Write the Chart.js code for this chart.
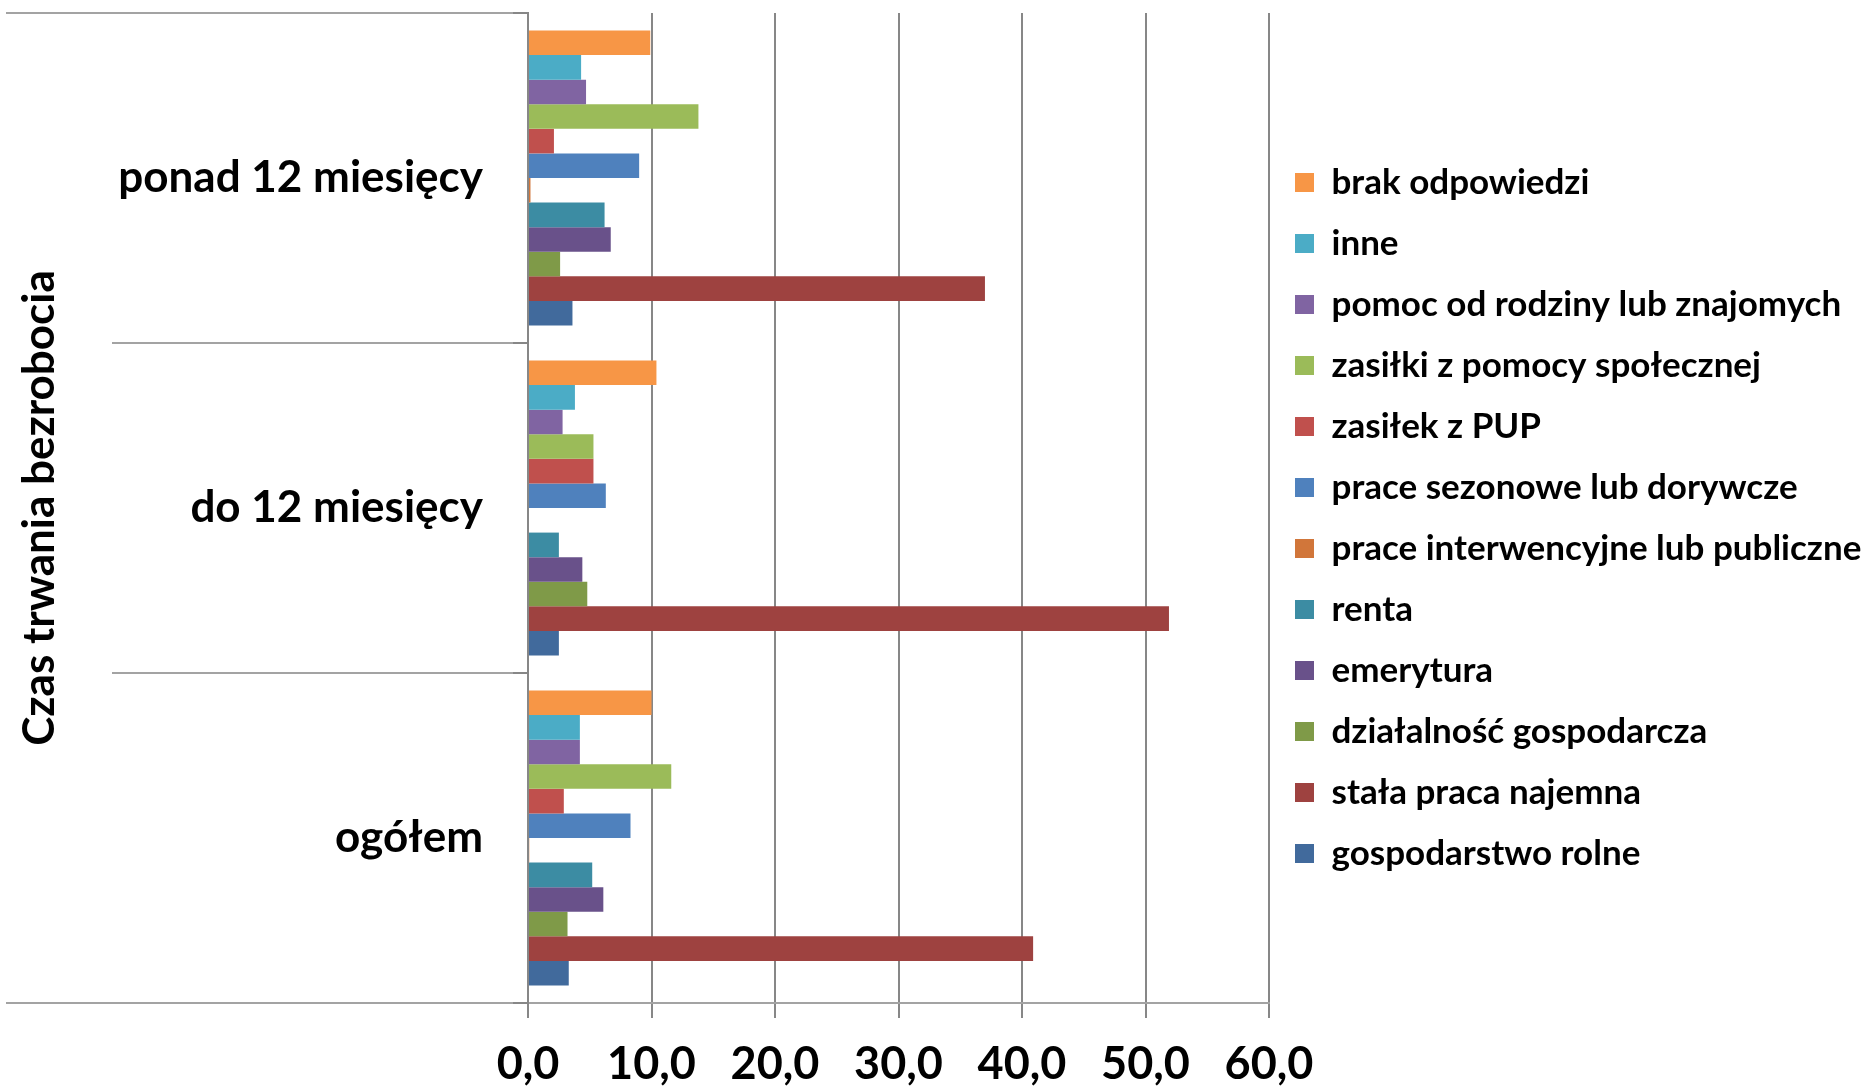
<!DOCTYPE html>
<html>
<head>
<meta charset="utf-8">
<script src="https://cdn.jsdelivr.net/npm/chart.js@4.4.1/dist/chart.umd.min.js"></script>
<style>
html,body{margin:0;padding:0;background:#ffffff;}
canvas{display:block;}
</style>
</head>
<body>
<canvas id="c" width="1862" height="1087"></canvas>
<script>
// Categories (top to bottom)
const categories = ['ponad 12 miesięcy', 'do 12 miesięcy', 'ogółem'];

// Series (legend order, top to bottom inside each group)
const brakOdpowiedzi      = [9.9, 10.4, 10.0];
const inne                = [4.3, 3.8, 4.2];
const pomocRodziny        = [4.7, 2.8, 4.2];
const zasilkiPomocy       = [13.8, 5.3, 11.6];
const zasilekPUP          = [2.1, 5.3, 2.9];
const praceSezonowe       = [9.0, 6.3, 8.3];
const praceInterwencyjne  = [0.2, 0.0, 0.1];
const renta               = [6.2, 2.5, 5.2];
const emerytura           = [6.7, 4.4, 6.1];
const dzialalnosc         = [2.6, 4.8, 3.2];
const stalaPraca          = [37.0, 51.9, 40.9];
const gospodarstwoRolne   = [3.6, 2.5, 3.3];

const seriesNames = [
  'brak odpowiedzi', 'inne', 'pomoc od rodziny lub znajomych', 'zasiłki z pomocy społecznej',
  'zasiłek z PUP', 'prace sezonowe lub dorywcze', 'prace interwencyjne lub publiczne',
  'renta', 'emerytura', 'działalność gospodarcza', 'stała praca najemna', 'gospodarstwo rolne'
];
const seriesValues = [
  brakOdpowiedzi, inne, pomocRodziny, zasilkiPomocy, zasilekPUP, praceSezonowe,
  praceInterwencyjne, renta, emerytura, dzialalnosc, stalaPraca, gospodarstwoRolne
];
const seriesColors = [
  '#F79646', '#4BACC6', '#8064A2', '#9BBB59', '#C0504D', '#4F81BD',
  '#D1763A', '#3C8CA3', '#69518A', '#7F9A48', '#9E4240', '#416A9C'
];

const xTickLabels = ['0,0', '10,0', '20,0', '30,0', '40,0', '50,0', '60,0'];

const FONT = 'Lato, "Open Sans", "DejaVu Sans", sans-serif';

const separatorPlugin = {
  id: 'separators',
  afterDraw(chart) {
    const ys = chart.scales.y;
    const area = chart.chartArea;
    const ctx = chart.ctx;
    const n = categories.length;
    ctx.save();
    ctx.strokeStyle = '#a3a3a3';
    ctx.lineWidth = 2;
    for (let i = 0; i <= n; i++) {
      let py;
      if (i === 0) py = area.top;
      else if (i === n) py = area.bottom;
      else py = (ys.getPixelForTick(i - 1) + ys.getPixelForTick(i)) / 2;
      const x0 = (i === 0 || i === n) ? 6 : 112;
      ctx.beginPath();
      ctx.moveTo(x0, py);
      ctx.lineTo(area.left - 15, py);
      ctx.stroke();
    }
    ctx.restore();
  }
};

function draw() {
  const datasets = seriesNames.map((name, i) => ({
    label: name,
    data: seriesValues[i],
    backgroundColor: seriesColors[i],
    borderWidth: 0
  }));

  new Chart(document.getElementById('c'), {
    type: 'bar',
    data: { labels: categories, datasets },
    plugins: [separatorPlugin],
    options: {
      indexAxis: 'y',
      responsive: false,
      animation: false,
      devicePixelRatio: 1,
      layout: { padding: { top: 13, left: 0, right: 0, bottom: 0 } },
      datasets: { bar: { categoryPercentage: 0.894, barPercentage: 1.0 } },
      plugins: {
        legend: {
          position: 'right',
          align: 'start',
          maxWidth: 593,
          title: { display: true, text: ' ', font: { size: 25, lineHeight: 1 }, padding: { top: 101, bottom: 0 } },
          labels: {
            boxWidth: 19,
            boxHeight: 19,
            padding: 26,
            color: '#000000',
            font: { family: FONT, weight: 'bold', size: 35 }
          }
        },
        tooltip: { enabled: false }
      },
      scales: {
        x: {
          min: 0,
          max: 60,
          ticks: {
            stepSize: 10,
            callback: (v, i) => xTickLabels[i],
            padding: 19,
            color: '#000000',
            font: { family: FONT, weight: 'bold', size: 45, lineHeight: 1.2 }
          },
          grid: { color: '#878787', lineWidth: 2, tickLength: 15 },
          border: { color: '#a3a3a3', width: 2 },
          afterFit: (s) => { s.height = 84; s.paddingLeft = 0; s.paddingRight = 0; }
        },
        y: {
          ticks: {
            padding: 30,
            color: '#000000',
            font: { family: FONT, weight: 'bold', size: 44 }
          },
          grid: { drawOnChartArea: false, tickLength: 15, color: '#878787', lineWidth: 2 },
          border: { color: '#878787', width: 2 },
          title: {
            display: true,
            text: 'Czas trwania bezrobocia',
            color: '#000000',
            font: { family: FONT, weight: 'bold', size: 44, lineHeight: 1.2 },
            padding: { top: 13, bottom: 0 }
          },
          afterFit: (s) => { s.width = 528; s.paddingTop = 0; s.paddingBottom = 0; }
        }
      }
    }
  });
}

Promise.all([
  document.fonts.load('bold 35px Lato'),
  document.fonts.load('bold 44px Lato')
]).then(draw, draw);
</script>
</body>
</html>
